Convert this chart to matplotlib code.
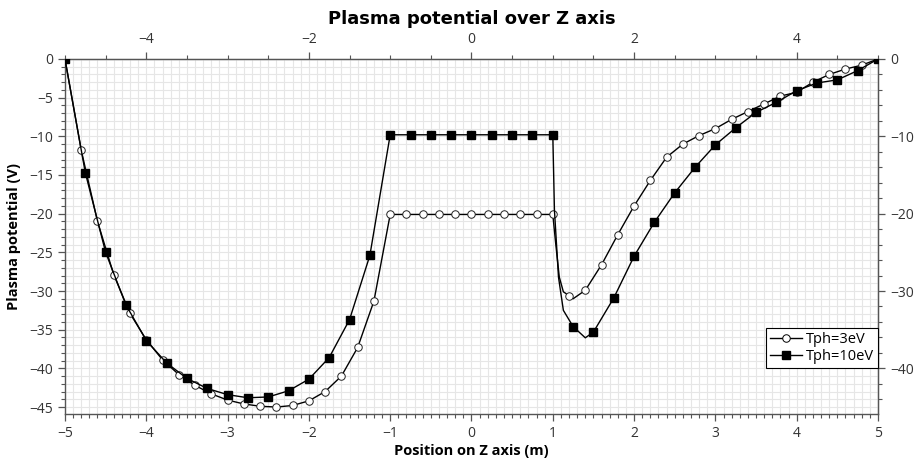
import matplotlib
matplotlib.use('Agg')
import matplotlib.pyplot as plt
from matplotlib.ticker import MultipleLocator

plt.rcParams['font.family'] = ['Open Sans', 'DejaVu Sans']

# Tph=3eV markers
x_3ev = [-5.0, -4.8, -4.6, -4.4, -4.2, -4.0, -3.8, -3.6, -3.4, -3.2, -3.0,
         -2.8, -2.6, -2.4, -2.2, -2.0, -1.8, -1.6, -1.4, -1.2, -1.0,
         -0.8, -0.6, -0.4, -0.2, 0.0, 0.2, 0.4, 0.6, 0.8, 1.0,
         1.2, 1.4, 1.6, 1.8, 2.0, 2.2, 2.4, 2.6, 2.8, 3.0,
         3.2, 3.4, 3.6, 3.8, 4.0, 4.2, 4.4, 4.6, 4.8, 5.0]
y_3ev = [0.0, -11.8, -21.0, -27.9, -32.9, -36.3, -38.9, -40.8, -42.2, -43.3, -44.1,
         -44.6, -44.9, -45.0, -44.8, -44.2, -43.0, -41.0, -37.3, -31.3, -20.1,
         -20.1, -20.1, -20.1, -20.1, -20.1, -20.1, -20.1, -20.1, -20.1, -20.1,
         -30.6, -29.9, -26.6, -22.7, -19.0, -15.7, -12.7, -11.0, -9.9, -9.0,
         -7.8, -6.8, -5.8, -4.8, -4.3, -3.0, -2.0, -1.3, -0.8, 0.0]

# Tph=10eV markers
x_10ev = [-5.0, -4.75, -4.5, -4.25, -4.0, -3.75, -3.5, -3.25, -3.0, -2.75, -2.5,
          -2.25, -2.0, -1.75, -1.5, -1.25, -1.0, -0.75, -0.5, -0.25, 0.0,
          0.25, 0.5, 0.75, 1.0, 1.25, 1.5, 1.75, 2.0, 2.25, 2.5,
          2.75, 3.0, 3.25, 3.5, 3.75, 4.0, 4.25, 4.5, 4.75, 5.0]
y_10ev = [0.0, -14.7, -25.0, -31.8, -36.4, -39.3, -41.3, -42.6, -43.4, -43.8, -43.7,
          -42.9, -41.4, -38.6, -33.7, -25.4, -9.8, -9.8, -9.8, -9.8, -9.8,
          -9.8, -9.8, -9.8, -9.8, -34.6, -35.3, -30.9, -25.5, -21.1, -17.3,
          -14.0, -11.1, -8.9, -6.9, -5.6, -4.1, -3.1, -2.7, -1.5, 0.0]

dip_x_3ev = [1.035, 1.08, 1.13, 1.25]
dip_y_3ev = [-23.8, -28.2, -30.1, -31.0]
dip_x_10ev = [1.02, 1.07, 1.13, 1.40]
dip_y_10ev = [-19.5, -28.2, -32.5, -36.05]


def curve(xs, ys, dx, dy):
    pts = sorted(list(zip(xs, ys)) + list(zip(dx, dy)))
    return [p[0] for p in pts], [p[1] for p in pts]


fig = plt.figure(figsize=(9.19, 4.67), dpi=100)
ax = fig.add_axes([0.0707, 0.1135, 0.8847, 0.7602])

lx, ly = curve(x_3ev, y_3ev, dip_x_3ev, dip_y_3ev)
ax.plot(lx, ly, color='black', lw=1.0, zorder=3)
ax.plot(x_3ev, y_3ev, ls='none', marker='o', ms=5.4, mfc='white', mec='#222222',
        mew=0.7, zorder=4)

lx, ly = curve(x_10ev, y_10ev, dip_x_10ev, dip_y_10ev)
ax.plot(lx, ly, color='black', lw=1.0, zorder=5)
ax.plot(x_10ev, y_10ev, ls='none', marker='s', ms=5.6, mfc='black', mec='black',
        zorder=6)

# legend proxies
ax.plot([], [], color='black', lw=1.0, marker='o', ms=5.4, mfc='white', mew=0.7,
        label='Tph=3eV')
ax.plot([], [], color='black', lw=1.0, marker='s', ms=5.6, mfc='black',
        label='Tph=10eV')

ax.set_xlim(-5, 5)
ax.set_ylim(-45.9, 0)

ax.xaxis.set_major_locator(MultipleLocator(1))
ax.xaxis.set_minor_locator(MultipleLocator(0.1))
ax.yaxis.set_major_locator(MultipleLocator(5))
ax.yaxis.set_minor_locator(MultipleLocator(1))

ax.grid(True, which='both', color='#e6e6e6', lw=0.8, zorder=0)
ax.set_axisbelow(True)

tick_col = '#333333'
ax.tick_params(which='major', direction='out', length=5, width=0.9,
               color='#555555', labelcolor=tick_col, labelsize=10)
ax.tick_params(which='minor', direction='out', length=3, width=0.8,
               color='#555555')
for s in ax.spines.values():
    s.set_color('#555555')
    s.set_linewidth(1.0)

top = ax.secondary_xaxis('top')
top.xaxis.set_major_locator(MultipleLocator(2))
top.xaxis.set_minor_locator(MultipleLocator(0.5))
top.tick_params(which='major', direction='out', length=5, width=0.9,
                color='#555555', labelcolor=tick_col, labelsize=10)
top.tick_params(which='minor', direction='out', length=3, width=0.8,
                color='#555555')
top.spines['top'].set_color('#555555')

right = ax.secondary_yaxis('right')
right.yaxis.set_major_locator(MultipleLocator(10))
right.yaxis.set_minor_locator(MultipleLocator(2))
right.tick_params(which='major', direction='out', length=5, width=0.9,
                  color='#555555', labelcolor=tick_col, labelsize=10)
right.tick_params(which='minor', direction='out', length=3, width=0.8,
                  color='#555555')
right.spines['right'].set_color('#555555')

ax.set_xlabel('Position on Z axis (m)', fontsize=10.5, fontweight='bold',
              labelpad=2)
ax.set_ylabel('Plasma potential (V)', fontsize=10.5, fontweight='bold',
              labelpad=6)
ax.set_title('Plasma potential over Z axis', fontsize=13, fontweight='bold',
             family=['Liberation Sans Narrow', 'DejaVu Sans'], pad=6)

leg = ax.legend(loc='lower right', bbox_to_anchor=(1.0, 0.13), fontsize=10.5,
                frameon=True, fancybox=False, edgecolor='black',
                framealpha=1, borderpad=0.25, handlelength=2.2,
                handletextpad=0.3, labelspacing=0.15, borderaxespad=0)
leg.get_frame().set_linewidth(0.8)
leg.set_zorder(10)

fig.savefig('out.png', dpi=100)
